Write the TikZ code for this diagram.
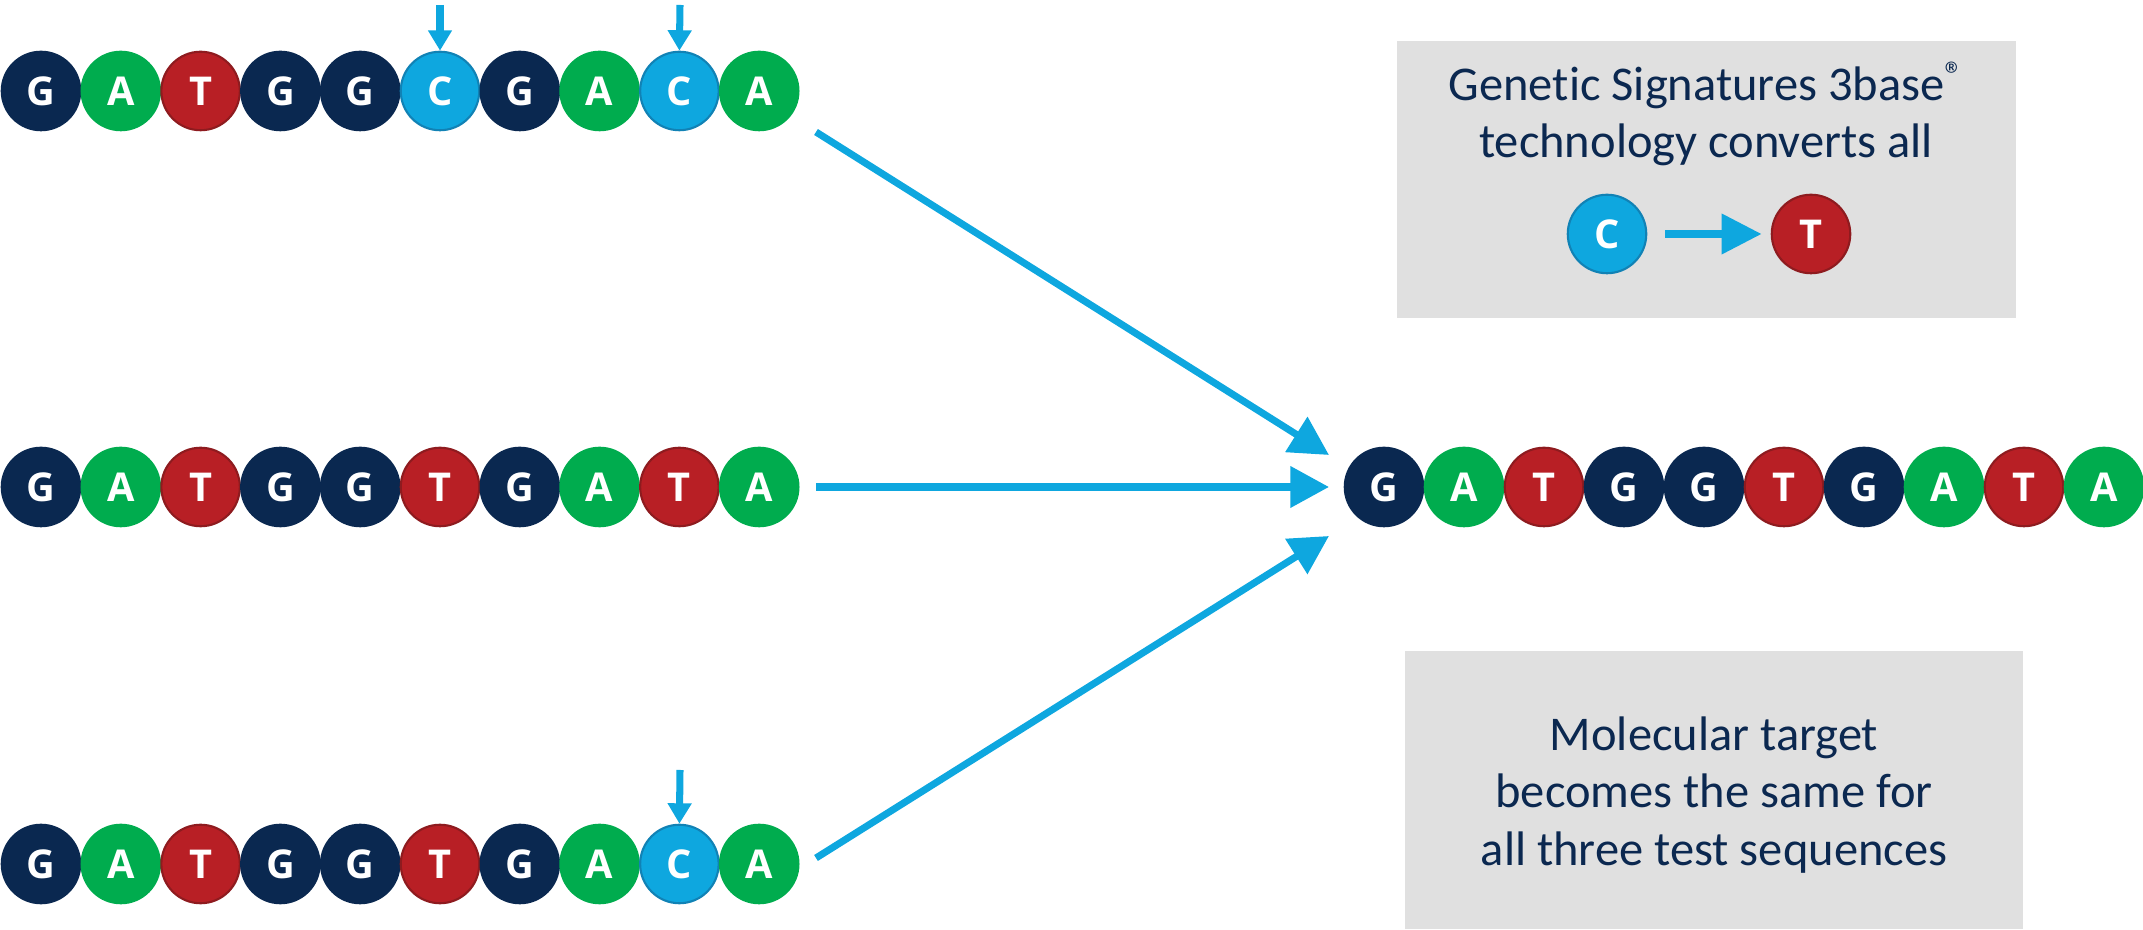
\documentclass[tikz,border=0pt]{standalone}
\usepackage{fontspec}
\setmainfont{Carlito}[Ligatures=NoCommon]
\newfontfamily\letterfont{Open Sans}
\usetikzlibrary{arrows.meta}
\definecolor{navy}{HTML}{0B2850}
\definecolor{fillG}{HTML}{0A2850}
\definecolor{edgeG}{HTML}{0A2850}
\definecolor{fillA}{HTML}{00AC4E}
\definecolor{edgeA}{HTML}{00AC4E}
\definecolor{fillT}{HTML}{B81F25}
\definecolor{edgeT}{HTML}{8E1B1F}
\definecolor{fillC}{HTML}{0EA7DF}
\definecolor{edgeC}{HTML}{1182B5}
\definecolor{panelgray}{HTML}{E0E0E0}
\definecolor{flow}{HTML}{0EA7DF}
\newcommand{\regmark}{\raisebox{0.55ex}{\fontsize{10.5}{11}\selectfont ®}}
\tikzset{
  nuc/.style={circle, inner sep=0pt, minimum size=7.85mm, fill=fill#1, draw=edge#1,
    line width=0.6pt, text=white, font=\letterfont\bfseries\fontsize{11.3}{12}\selectfont},
  markarrow/.style={draw=flow, line width=2pt, -{Triangle[width=6.5pt,length=5.8pt]}},
  flowarrow/.style={draw=flow, line width=2pt, -{Triangle[width=11.4pt,length=11pt]}},
  swaparrow/.style={draw=flow, line width=2.3pt, -{Triangle[width=11pt,length=11.4pt]}},
  panel/.style={rectangle, fill=panelgray, inner sep=0pt},
  note/.style={text=navy, align=center, inner sep=0pt, font=\fontsize{13.8}{16.3}\selectfont},
}
\begin{document}
\begin{tikzpicture}[x=0.1mm, y=-0.1mm]
  \useasboundingbox (0,0) rectangle (2143,930);
  % three test sequences
  \foreach \nt [count=\i] in {G,A,T,G,G,C,G,A,C,A}
    \node[nuc=\nt] (a\i) at ({41+79.8*(\i-1)},91) {\nt};
  \foreach \nt [count=\i] in {G,A,T,G,G,T,G,A,T,A}
    \node[nuc=\nt] (b\i) at ({41+79.8*(\i-1)},487) {\nt};
  \foreach \nt [count=\i] in {G,A,T,G,G,T,G,A,C,A}
    \node[nuc=\nt] (c\i) at ({41+79.8*(\i-1)},864) {\nt};
  % converted target
  \foreach \nt [count=\i] in {G,A,T,G,G,T,G,A,T,A}
    \node[nuc=\nt] (t\i) at ({1384+80*(\i-1)},487) {\nt};
  % marks over the C positions
  \coordinate (m1) at (440,5);
  \coordinate (m2) at (680,5);
  \coordinate (m3) at (680,770);
  \draw[markarrow] (m1) -- (a6.north);
  \draw[markarrow] (m2) -- (a9.north);
  \draw[markarrow] (m3) -- (c9.north);
  % flows into the target
  \coordinate (s1) at (816,132);
  \coordinate (s2) at (816,487);
  \coordinate (s3) at (816,858);
  \coordinate (e1) at (1329,455);
  \coordinate (e2) at (1329,487);
  \coordinate (e3) at (1329,536);
  \draw[flowarrow] (s1) -- (e1);
  \draw[flowarrow] (s2) -- (e2);
  \draw[flowarrow] (s3) -- (e3);
  % panels
  \node[panel, minimum width=61.9mm, minimum height=27.7mm] (convbox) at (1706.5,179.5) {};
  \node[note] (convtext) at (1706,114) {Genetic Signatures 3base\regmark\\technology converts all};
  \node[nuc=C] (cc) at (1607,234) {C};
  \node[nuc=T] (ct) at (1811,234) {T};
  \draw[swaparrow, shorten <=1.8mm, shorten >=0.9mm] (cc) -- (ct);
  \node[panel, minimum width=61.8mm, minimum height=27.8mm] (samebox) at (1714,790) {};
  \node[note] (sametext) at (1714,795) {Molecular target\\becomes the same for\\all three test sequences};
\end{tikzpicture}
\end{document}
